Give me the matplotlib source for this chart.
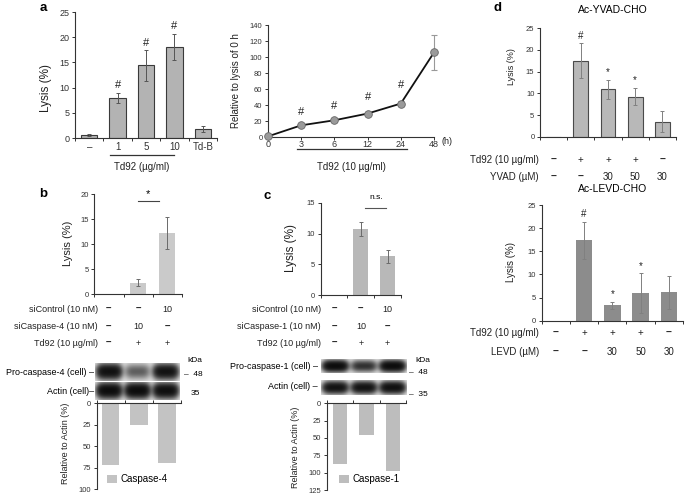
import numpy as np
import matplotlib
matplotlib.use("Agg")
import matplotlib.pyplot as plt
from matplotlib.transforms import blended_transform_factory

plt.rcParams["font.family"] = ["Liberation Sans", "DejaVu Sans"]

W, H = 685, 494

# ---- panel a: dose response and time course ----
a_dose_labels = ["–", "1", "5", "10", "Td-B"]
a_dose_lysis = [0.5, 8.0, 14.4, 18.1, 1.7]
a_dose_err = [0.2, 1.0, 3.0, 2.6, 0.6]
a_dose_sig = ["", "#", "#", "#", ""]

a_time_labels = ["0", "3", "6", "12", "24", "48"]
a_time_rel = [0.8, 14.6, 20.9, 29.3, 41.8, 105.7]
a_time_err = [0.5, 1.5, 2.0, 2.0, 3.0, 22.0]
a_time_sig = ["", "#", "#", "#", "#", ""]

# ---- panel b: siCaspase-4 ----
b_lysis = [0, 2.3, 12.3]
b_err = [0, 0.7, 3.2]
b_sicontrol = ["–", "–", "10"]
b_sicasp = ["–", "10", "–"]
b_td92 = ["–", "+", "+"]
b_band_casp = [1.0, 0.35, 0.95]
b_band_actin = [1.1, 1.1, 1.05]
b_rel_actin = [72, 25, 69]

# ---- panel c: siCaspase-1 ----
c_lysis = [0.1, 10.7, 6.3]
c_err = [0, 1.1, 1.0]
c_sicontrol = ["–", "–", "10"]
c_sicasp = ["–", "10", "–"]
c_td92 = ["–", "+", "+"]
c_band_casp = [1.1, 0.6, 1.1]
c_band_actin = [0.95, 0.95, 1.0]
c_rel_actin = [88, 45, 97]

# ---- panel d: inhibitors ----
d_td92 = ["–", "+", "+", "+", "–"]
d_yvad_lysis = [0, 17.5, 10.9, 9.2, 3.5]
d_yvad_err = [0, 4.0, 2.1, 2.0, 2.5]
d_yvad_sig = ["", "#", "*", "*", ""]
d_yvad_dose = ["–", "–", "30", "50", "30"]
d_levd_lysis = [0, 17.4, 3.3, 5.9, 6.1]
d_levd_err = [0, 4.0, 0.8, 4.3, 3.5]
d_levd_sig = ["", "#", "*", "*", ""]
d_levd_dose = ["–", "–", "30", "50", "30"]

AX = "#333333"

fig = plt.figure(figsize=(W / 100, H / 100), dpi=100)


def rect(x0, y0, x1, y1):
    return [x0 / W, 1 - y1 / H, (x1 - x0) / W, (y1 - y0) / H]


def fx(x):
    return x / W


def fy(y):
    return 1 - y / H


def base_style(ax, fs=5.5):
    for s in ["top", "right"]:
        ax.spines[s].set_visible(False)
    for s in ["left", "bottom", "top"]:
        ax.spines[s].set_color(AX)
        ax.spines[s].set_linewidth(0.8)
    ax.tick_params(axis="y", labelsize=fs, length=2.5, width=0.7, pad=1.5, colors=AX)
    ax.tick_params(axis="x", labelsize=fs, colors=AX)


def category_ticks(ax, n, top=False):
    ax.set_xlim(-0.5, n - 0.5)
    ax.set_xticks(np.arange(-0.5, n), minor=True)
    ax.tick_params(axis="x", which="minor", length=2.5, width=0.7, colors=AX,
                   top=top, bottom=not top)
    ax.set_xticks([])


def bars(ax, vals, errs, color, edge=None, width=0.55, ecolor="#666666"):
    x = np.arange(len(vals))
    ax.bar(x, vals, width=width, color=color,
           edgecolor=edge if edge else color, linewidth=0.8 if edge else 0)
    e = np.array(errs, dtype=float)
    mask = e > 0
    ax.errorbar(x[mask], np.array(vals)[mask], yerr=e[mask], fmt="none",
                ecolor=ecolor, elinewidth=0.7, capsize=1.6, capthick=0.7)


def sig_marks(ax, vals, errs, marks, fs=7, dy=2):
    for i, (v, e, m) in enumerate(zip(vals, errs, marks)):
        if m:
            ax.annotate(m, (i, v + e), xytext=(0, dy), textcoords="offset points",
                        ha="center", va="bottom", fontsize=fs, color="#222222")


def row_labels(ax, title, marks, y, xr, fs=6.5):
    tr = blended_transform_factory(ax.transData, fig.transFigure)
    fig.text(fx(xr), fy(y), title, ha="right", va="center", fontsize=fs, color="#222222")
    for i, m in enumerate(marks):
        bold = m == "–"
        ax.text(i, fy(y), m, transform=tr, ha="center", va="center",
                fontsize=fs + (0.5 if bold else 0), fontweight="bold" if bold else "normal",
                color="#222222", clip_on=False)


def blot(ax, intensity, lane_w=0.86, band_h=0.75):
    # soft western-blot style bands, one per lane
    n = len(intensity)
    xs = np.linspace(-0.5, n - 0.5, 300)
    ys = np.linspace(0, 1, 40)
    dens = np.zeros((ys.size, xs.size))
    for i, v in enumerate(intensity):
        gx = np.exp(-((xs - i) / (lane_w / 2)) ** 4)
        gy = np.exp(-((ys - 0.5) / (band_h / 2)) ** 2)
        dens += v * np.outer(gy, gx)
    img = 0.08 + 0.92 * (1 - np.exp(-2.6 * dens))
    ax.imshow(img, cmap="gray_r", vmin=0, vmax=1, aspect="auto",
              extent=(-0.5, n - 0.5, 0, 1), interpolation="bilinear")
    ax.set_axis_off()


def panel_letter(x, y, s):
    fig.text(fx(x), fy(y), s, fontsize=9.5, fontweight="bold", ha="center", va="center")


def ylabel(x, y, s, fs):
    fig.text(fx(x), fy(y), s, rotation=90, ha="center", va="center", fontsize=fs,
             color="#222222")


def hline(ax, x0, x1, y, lw=0.9, color="#333333"):
    tr = blended_transform_factory(ax.transData, fig.transFigure)
    ax.plot([x0, x1], [fy(y), fy(y)], transform=tr, color=color, lw=lw, clip_on=False)


def ftext(ax, x, y, s, fs, **kw):
    tr = blended_transform_factory(ax.transData, fig.transFigure)
    ax.text(x, fy(y), s, transform=tr, ha="center", va="center", fontsize=fs,
            color="#222222", clip_on=False, **kw)


# ================= panel a (left) =================
ax = fig.add_axes(rect(75, 12, 217, 138))
base_style(ax, 6.5)
bars(ax, a_dose_lysis, a_dose_err, "#b3b3b3", edge="#3a3a3a", width=0.58, ecolor="#555555")
category_ticks(ax, len(a_dose_lysis))
ax.set_xticks(range(len(a_dose_labels)))
ax.set_xticklabels(a_dose_labels)
ax.tick_params(axis="x", which="major", length=0, pad=3, labelsize=7)
ax.set_ylim(0, 25)
ax.set_yticks(range(0, 26, 5))
sig_marks(ax, a_dose_lysis, a_dose_err, a_dose_sig, fs=8, dy=2)
hline(ax, 0.74, 2.97, 155)
ftext(ax, 1.86, 166.5, "Td92 (µg/ml)", 7)
ylabel(46, 88, "Lysis (%)", 8.5)
panel_letter(43, 8, "a")

# ================= panel a (right) =================
ax = fig.add_axes(rect(268, 25, 434, 137))
base_style(ax, 5.5)
xt = np.arange(len(a_time_rel))
ax.errorbar(xt, a_time_rel, yerr=a_time_err, fmt="none", ecolor="#999999",
            elinewidth=0.8, capsize=2, capthick=0.8, zorder=1, clip_on=False)
ax.plot(xt, a_time_rel, color="#111111", lw=1.3, zorder=2)
ax.plot(xt, a_time_rel, "o", ms=5.5, mfc="#9a9a9a", mec="#666666", mew=0.6,
        zorder=3, clip_on=False)
ax.set_xlim(0, len(a_time_rel) - 1)
ax.set_ylim(0, 140)
ax.set_yticks(range(0, 141, 20))
ax.set_xticks(xt)
ax.set_xticklabels(a_time_labels)
ax.tick_params(axis="x", length=2, width=0.7, pad=0.5, labelsize=6.5)
for i, (v, m) in enumerate(zip(a_time_rel, a_time_sig)):
    if m:
        ax.annotate(m, (i, v), xytext=(0, 6 + 0.25 * i * i), textcoords="offset points",
                    ha="center", va="bottom", fontsize=8, color="#222222")
ftext(ax, 5.4, 142, "(h)", 6.5)
hline(ax, 0.86, 4.2, 149.5)
ftext(ax, 2.5, 166.5, "Td92 (10 µg/ml)", 7)
ylabel(236, 81, "Relative to lysis of 0 h", 7)

# ================= panel b =================
ax = fig.add_axes(rect(94.3, 194, 182, 294.3))
base_style(ax, 5.5)
bars(ax, b_lysis, b_err, "#cacaca", width=0.55, ecolor="#6a6a6a")
category_ticks(ax, len(b_lysis))
ax.set_ylim(0, 20)
ax.set_yticks(range(0, 21, 5))
ax.plot([1.0, 1.7], [18.7, 18.7], color="#444444", lw=0.8, clip_on=False)
ax.text(1.35, 20.0, "*", ha="center", va="center", fontsize=8, clip_on=False)
row_labels(ax, "siControl (10 nM)", b_sicontrol, 309, 98)
row_labels(ax, "siCaspase-4 (10 nM)", b_sicasp, 326.7, 98)
row_labels(ax, "Td92 (10 µg/ml)", b_td92, 343.3, 98)
ylabel(68, 243, "Lysis (%)", 8)
panel_letter(43, 194, "b")

axb1 = fig.add_axes(rect(95, 363, 180, 381))
blot(axb1, b_band_casp)
axb2 = fig.add_axes(rect(95, 382, 180, 400))
blot(axb2, b_band_actin)
fig.text(fx(94), fy(372.5), "Pro-caspase-4 (cell) –", ha="right", va="center", fontsize=6.5)
fig.text(fx(94), fy(391), "Actin (cell)–", ha="right", va="center", fontsize=6.5)
fig.text(fx(195), fy(361), "kDa", ha="center", va="center", fontsize=6)
fig.text(fx(184), fy(374), "–  48", ha="left", va="center", fontsize=6)
fig.text(fx(195), fy(393), "35", ha="center", va="center", fontsize=6)

ax = fig.add_axes(rect(96.7, 403.3, 181, 489.3))
base_style(ax, 5.5)
ax.spines["bottom"].set_visible(False)
ax.spines["top"].set_visible(True)
ax.bar(range(len(b_rel_actin)), b_rel_actin, width=0.62, color="#c3c3c3",
       label="Caspase-4")
category_ticks(ax, len(b_rel_actin), top=True)
ax.set_ylim(100, 0)
ax.set_yticks(range(0, 101, 25))
ax.legend(loc="center left", bbox_to_anchor=(fx(107), fy(479)),
          bbox_transform=fig.transFigure, frameon=False, fontsize=7,
          handlelength=1.0, handleheight=0.9, handletextpad=0.4,
          borderaxespad=0, borderpad=0)
ylabel(65, 443, "Relative to Actin (%)", 6.5)

# ================= panel c =================
ax = fig.add_axes(rect(320.7, 202.7, 401, 295.3))
base_style(ax, 5.5)
bars(ax, c_lysis, c_err, "#b8b8b8", width=0.55, ecolor="#6a6a6a")
category_ticks(ax, len(c_lysis))
ax.set_ylim(0, 15)
ax.set_yticks(range(0, 16, 5))
ax.plot([1.15, 1.94], [14.1, 14.1], color="#555555", lw=0.8, clip_on=False)
ax.text(1.56, 15.9, "n.s.", ha="center", va="center", fontsize=6, clip_on=False)
row_labels(ax, "siControl (10 nM)", c_sicontrol, 309, 321)
row_labels(ax, "siCaspase-1 (10 nM)", c_sicasp, 326.7, 321)
row_labels(ax, "Td92 (10 µg/ml)", c_td92, 343.3, 321)
ylabel(291, 248, "Lysis (%)", 8.5)
panel_letter(267, 196, "c")

axc1 = fig.add_axes(rect(320.7, 359, 406.7, 373))
blot(axc1, c_band_casp)
axc2 = fig.add_axes(rect(320.7, 380, 406.7, 395))
blot(axc2, c_band_actin)
fig.text(fx(318), fy(366.7), "Pro-caspase-1 (cell) –", ha="right", va="center", fontsize=6.5)
fig.text(fx(318), fy(386.7), "Actin (cell) –", ha="right", va="center", fontsize=6.5)
fig.text(fx(423), fy(360.5), "kDa", ha="center", va="center", fontsize=6)
fig.text(fx(409), fy(373), "–  48", ha="left", va="center", fontsize=6)
fig.text(fx(409), fy(394), "–  35", ha="left", va="center", fontsize=6)

ax = fig.add_axes(rect(326.7, 403.3, 406, 490))
base_style(ax, 5.5)
ax.spines["bottom"].set_visible(False)
ax.spines["top"].set_visible(True)
ax.bar(range(len(c_rel_actin)), c_rel_actin, width=0.55, color="#bdbdbd",
       label="Caspase-1")
category_ticks(ax, len(c_rel_actin), top=True)
ax.set_ylim(125, 0)
ax.set_yticks(range(0, 126, 25))
ax.legend(loc="center left", bbox_to_anchor=(fx(339), fy(479)),
          bbox_transform=fig.transFigure, frameon=False, fontsize=7,
          handlelength=1.0, handleheight=0.9, handletextpad=0.4,
          borderaxespad=0, borderpad=0)
ylabel(296, 447, "Relative to Actin (%)", 6.5)

# ================= panel d (YVAD) =================
ax = fig.add_axes(rect(540, 28.3, 676, 136.7))
base_style(ax, 5.5)
bars(ax, d_yvad_lysis, d_yvad_err, "#b8b8b8", edge="#4a4a4a", width=0.55, ecolor="#808080")
category_ticks(ax, len(d_yvad_lysis))
ax.set_ylim(0, 25)
ax.set_yticks(range(0, 26, 5))
sig_marks(ax, d_yvad_lysis, d_yvad_err, d_yvad_sig, fs=7, dy=2)
fig.text(fx(613), fy(10), "Ac-YVAD-CHO", ha="center", va="center", fontsize=7.5)
row_labels(ax, "Td92 (10 µg/ml)", d_td92, 160, 538.5, fs=7)
row_labels(ax, "YVAD (µM)", d_yvad_dose, 177.3, 538.5, fs=7)
ylabel(511.5, 67, "Lysis (%)", 6.5)
panel_letter(498, 8, "d")

# ================= panel d (LEVD) =================
ax = fig.add_axes(rect(541.7, 205, 683, 320.7))
base_style(ax, 5.5)
bars(ax, d_levd_lysis, d_levd_err, "#8c8c8c", width=0.58, ecolor="#808080")
category_ticks(ax, len(d_levd_lysis))
ax.set_ylim(0, 25)
ax.set_yticks(range(0, 26, 5))
sig_marks(ax, d_levd_lysis, d_levd_err, d_levd_sig, fs=7, dy=2)
fig.text(fx(613), fy(189), "Ac-LEVD-CHO", ha="center", va="center", fontsize=7.5)
row_labels(ax, "Td92 (10 µg/ml)", d_td92, 333.3, 539, fs=7)
row_labels(ax, "LEVD (µM)", d_levd_dose, 351.7, 539, fs=7)
ylabel(511.5, 262, "Lysis (%)", 7)

fig.savefig("out.png", dpi=100)
